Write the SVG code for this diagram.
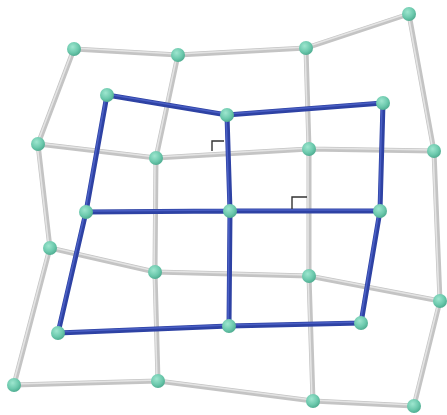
<svg xmlns="http://www.w3.org/2000/svg" width="447" height="415" viewBox="0 0 447 415">
<defs>
<radialGradient id="ball" cx="0.4" cy="0.35" r="0.7">
<stop offset="0" stop-color="#9ee6cf"/>
<stop offset="0.6" stop-color="#6cc9ad"/>
<stop offset="1" stop-color="#4aa88c"/>
</radialGradient>
<style>
.g{stroke:#c4c4c4;stroke-width:5;fill:none;stroke-linecap:round}
.gh{stroke:#e4e4e4;stroke-width:1.6;fill:none;stroke-linecap:round}
.b{stroke:#2e42a4;stroke-width:5;fill:none;stroke-linecap:round}
.bh{stroke:#4a5fc4;stroke-width:1.6;fill:none;stroke-linecap:round}
.m{stroke:#333;stroke-width:1.4;fill:none}
.n{fill:url(#ball)}
</style>
</defs>
<rect width="447" height="415" fill="#fff"/>
<g id="connectors">
<g id="grey-grid">
<path class="g" d="M74,49L178,55L306,48L409,14M38,144L156,158L309,149L434,151M50,248L155,272L309,276L440,301M14,385L158,381L313,401L414,406M74,49L38,144L50,248L14,385M178,55L156,158L155,272L158,381M306,48L309,149L309,276L313,401M409,14L434,151L440,301L414,406"/>
<path class="gh" d="M74,48L178,54L306,47L409,13M38,143L156,157L309,148L434,150M50,247L155,271L309,275L440,300M14,384L158,380L313,400L414,405M73,49L37,144L49,248L13,385M177,55L155,158L154,272L157,381M305,48L308,149L308,276L312,401M408,14L433,151L439,301L413,406"/>
</g>
<g id="blue-grid">
<path class="b" d="M107,95L227,115L383,103M86,212L230,211L380,211M58,333L229,326L361,323M107,95L86,212L58,333M227,115L230,211L229,326M383,103L380,211L361,323"/>
<path class="bh" d="M107,94L227,114L383,102M86,211L230,210L380,210M58,332L229,325L361,322M106,95L85,212L57,333M226,115L229,211L228,326M382,103L379,211L360,323"/>
</g>
<g id="right-angles">
<path class="m" d="M212,151L212,141L224,141"/>
<path class="m" d="M292,209L292,197L307,197"/>
</g>
</g>
<g id="n-g00"><circle class="n" cx="74" cy="49" r="7"/></g>
<g id="n-g01"><circle class="n" cx="178" cy="55" r="7"/></g>
<g id="n-g02"><circle class="n" cx="306" cy="48" r="7"/></g>
<g id="n-g03"><circle class="n" cx="409" cy="14" r="7"/></g>
<g id="n-g10"><circle class="n" cx="38" cy="144" r="7"/></g>
<g id="n-g11"><circle class="n" cx="156" cy="158" r="7"/></g>
<g id="n-g12"><circle class="n" cx="309" cy="149" r="7"/></g>
<g id="n-g13"><circle class="n" cx="434" cy="151" r="7"/></g>
<g id="n-g20"><circle class="n" cx="50" cy="248" r="7"/></g>
<g id="n-g21"><circle class="n" cx="155" cy="272" r="7"/></g>
<g id="n-g22"><circle class="n" cx="309" cy="276" r="7"/></g>
<g id="n-g23"><circle class="n" cx="440" cy="301" r="7"/></g>
<g id="n-g30"><circle class="n" cx="14" cy="385" r="7"/></g>
<g id="n-g31"><circle class="n" cx="158" cy="381" r="7"/></g>
<g id="n-g32"><circle class="n" cx="313" cy="401" r="7"/></g>
<g id="n-g33"><circle class="n" cx="414" cy="406" r="7"/></g>
<g id="n-b00"><circle class="n" cx="107" cy="95" r="7"/></g>
<g id="n-b01"><circle class="n" cx="227" cy="115" r="7"/></g>
<g id="n-b02"><circle class="n" cx="383" cy="103" r="7"/></g>
<g id="n-b10"><circle class="n" cx="86" cy="212" r="7"/></g>
<g id="n-b11"><circle class="n" cx="230" cy="211" r="7"/></g>
<g id="n-b12"><circle class="n" cx="380" cy="211" r="7"/></g>
<g id="n-b20"><circle class="n" cx="58" cy="333" r="7"/></g>
<g id="n-b21"><circle class="n" cx="229" cy="326" r="7"/></g>
<g id="n-b22"><circle class="n" cx="361" cy="323" r="7"/></g>
</svg>
